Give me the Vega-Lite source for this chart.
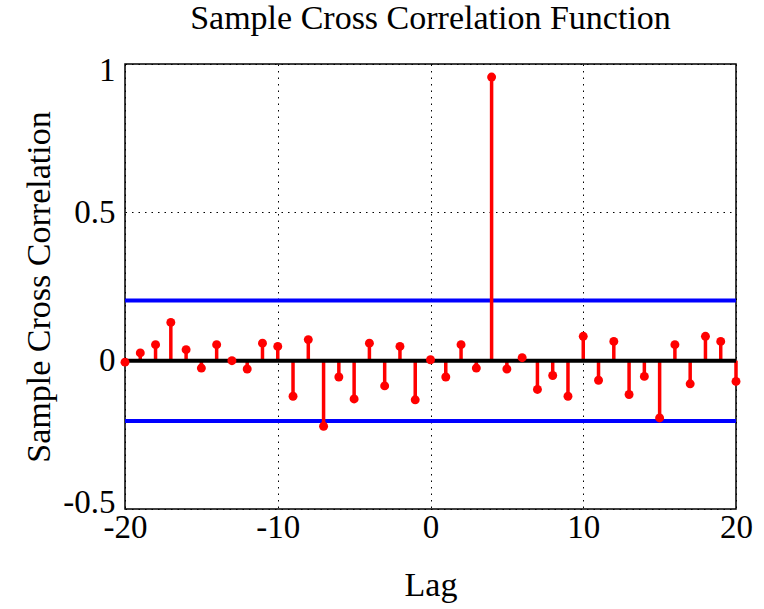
{
  "$schema": "https://vega.github.io/schema/vega-lite/v6.json",
  "autosize": {"type": "none"},
  "width": 611,
  "height": 445,
  "padding": {"left": 125, "top": 64, "right": 28, "bottom": 100},
  "background": "white",
  "config": {
    "font": "Liberation Serif",
    "view": {"stroke": "black", "strokeWidth": 1.5},
    "axis": {
      "labelFont": "Liberation Serif",
      "titleFont": "Liberation Serif",
      "labelColor": "black",
      "titleColor": "black",
      "labelFontSize": 33,
      "titleFontSize": 34,
      "titleFontWeight": "normal",
      "labelFlush": false,
      "labelOverlap": false,
      "domain": false,
      "ticks": false,
      "grid": true,
      "gridColor": "black",
      "gridDash": [1.5, 5],
      "gridWidth": 1,
      "gridOpacity": 1
    }
  },
  "title": {
    "text": "Sample Cross Correlation Function",
    "font": "Liberation Serif",
    "fontSize": 34,
    "fontWeight": "normal",
    "color": "black",
    "anchor": "middle",
    "frame": "group",
    "offset": 18
  },
  "datasets": {
    "xcf": [
      {"lag": -20, "r": -0.005},
      {"lag": -19, "r": 0.026},
      {"lag": -18, "r": 0.054},
      {"lag": -17, "r": 0.129},
      {"lag": -16, "r": 0.037},
      {"lag": -15, "r": -0.025},
      {"lag": -14, "r": 0.054},
      {"lag": -13, "r": 0.0},
      {"lag": -12, "r": -0.028},
      {"lag": -11, "r": 0.059},
      {"lag": -10, "r": 0.048},
      {"lag": -9, "r": -0.12},
      {"lag": -8, "r": 0.071},
      {"lag": -7, "r": -0.221},
      {"lag": -6, "r": -0.055},
      {"lag": -5, "r": -0.129},
      {"lag": -4, "r": 0.059},
      {"lag": -3, "r": -0.085},
      {"lag": -2, "r": 0.048},
      {"lag": -1, "r": -0.132},
      {"lag": 0, "r": 0.003},
      {"lag": 1, "r": -0.055},
      {"lag": 2, "r": 0.054},
      {"lag": 3, "r": -0.025},
      {"lag": 4, "r": 0.956},
      {"lag": 5, "r": -0.028},
      {"lag": 6, "r": 0.01},
      {"lag": 7, "r": -0.097},
      {"lag": 8, "r": -0.05},
      {"lag": 9, "r": -0.12},
      {"lag": 10, "r": 0.082},
      {"lag": 11, "r": -0.066},
      {"lag": 12, "r": 0.065},
      {"lag": 13, "r": -0.114},
      {"lag": 14, "r": -0.053},
      {"lag": 15, "r": -0.193},
      {"lag": 16, "r": 0.054},
      {"lag": 17, "r": -0.078},
      {"lag": 18, "r": 0.082},
      {"lag": 19, "r": 0.065},
      {"lag": 20, "r": -0.07}
    ],
    "bounds": [{"b": 0.203}, {"b": -0.203}],
    "zero": [{"z": 0}]
  },
  "layer": [
    {
      "data": {"name": "bounds"},
      "mark": {"type": "rule", "color": "#0000ff", "strokeWidth": 4},
      "encoding": {
        "y": {"field": "b", "type": "quantitative", "scale": {"domain": [-0.5, 1], "nice": false, "zero": false},
              "axis": {"values": [-0.5, 0, 0.5, 1], "labelExpr": "'' + datum.value", "title": "Sample Cross Correlation", "labelPadding": 10, "titlePadding": 6, "labelFlush": true, "labelFlushOffset": 10}}
      }
    },
    {
      "data": {"name": "xcf"},
      "mark": {"type": "rule", "color": "#ff0000", "strokeWidth": 3.5},
      "encoding": {
        "x": {"field": "lag", "type": "quantitative", "scale": {"domain": [-20, 20], "nice": false, "zero": false},
              "axis": {"values": [-20, -10, 0, 10, 20], "labelExpr": "'' + datum.value", "title": "Lag", "labelPadding": 2, "titlePadding": 24}},
        "y": {"field": "r", "type": "quantitative"},
        "y2": {"datum": 0}
      }
    },
    {
      "data": {"name": "zero"},
      "mark": {"type": "rule", "color": "black", "strokeWidth": 4},
      "encoding": {
        "y": {"field": "z", "type": "quantitative"}
      }
    },
    {
      "data": {"name": "xcf"},
      "mark": {"type": "point", "shape": "circle", "filled": true, "color": "#ff0000", "size": 80, "opacity": 1},
      "encoding": {
        "x": {"field": "lag", "type": "quantitative"},
        "y": {"field": "r", "type": "quantitative"}
      }
    }
  ]
}
